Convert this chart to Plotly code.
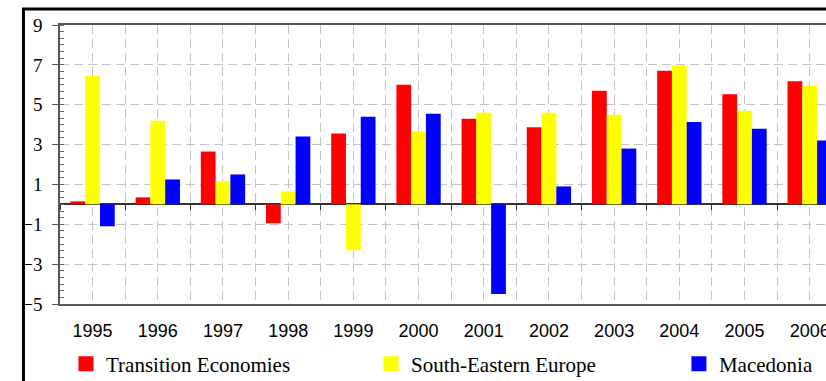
import plotly.graph_objects as go

years = [1995, 1996, 1997, 1998, 1999, 2000, 2001, 2002, 2003, 2004, 2005, 2006]
transition = [0.15, 0.35, 2.65, -0.95, 3.55, 6.0, 4.3, 3.87, 5.7, 6.7, 5.53, 6.18]
south_east = [6.45, 4.2, 1.15, 0.65, -2.3, 3.65, 4.6, 4.6, 4.5, 6.97, 4.7, 5.95]
macedonia = [-1.1, 1.25, 1.5, 3.4, 4.4, 4.55, -4.5, 0.9, 2.8, 4.13, 3.8, 3.2]

series = [
    ("Transition Economies", transition, "#FF0000", "legend"),
    ("South-Eastern Europe", south_east, "#FFFF00", "legend2"),
    ("Macedonia", macedonia, "#0000FF", "legend3"),
]

SERIF = "Liberation Serif, DejaVu Serif, serif"
SANS = "Liberation Sans, Arial, sans-serif"

fig = go.Figure()
for name, vals, col, lg in series:
    fig.add_trace(go.Bar(x=years, y=vals, name=name, marker=dict(color=col, line=dict(width=0)),
                         showlegend=False))
for name, vals, col, lg in series:
    fig.add_trace(go.Scatter(x=[None], y=[None], mode="markers", name=name, legend=lg,
                             marker=dict(symbol="square", size=15, color=col)))

# x range: the reference is cropped inside the 2006 group
xr = [1994.5, 2006.25]
grid_col = "#c4c4c4"
leg_font = dict(family=SERIF, size=21, color="#000")

def leg(x):
    return dict(orientation="h", x=x, xanchor="left", y=-0.215, yanchor="middle",
                font=leg_font, bgcolor="rgba(0,0,0,0)")

fig.update_layout(
    width=826, height=381,
    font=dict(family=SERIF),
    margin=dict(l=60, r=0, t=25, b=77, autoexpand=False),
    paper_bgcolor="white", plot_bgcolor="white",
    barmode="group", bargap=0.32, bargroupgap=0,
    showlegend=True,
    legend=leg(0.0078), legend2=leg(0.406), legend3=leg(0.808),
    xaxis=dict(range=xr, tickmode="array", tickvals=years, ticktext=[str(y) for y in years],
               showgrid=True, gridcolor=grid_col, griddash="9px,5px", gridwidth=1,
               minor=dict(tick0=1994.5, dtick=1, showgrid=True, gridcolor=grid_col,
                          griddash="9px,5px", gridwidth=1),
               showline=True, linecolor="#555", linewidth=1.5, mirror=True,
               ticks="", zeroline=False, automargin=False, ticklabeloverflow="allow",
               tickfont=dict(family=SANS, size=18, color="#000"),
               ticklabelstandoff=10),
    xaxis2=dict(range=xr, overlaying="x", anchor="free", position=5/14, side="bottom",
                tickmode="linear", tick0=1994.5, dtick=1, ticks="outside", ticklen=5,
                tickcolor="#333", tickwidth=1, showticklabels=False, showgrid=False,
                showline=False, zeroline=False),
    yaxis=dict(range=[-5, 9], tickmode="linear", tick0=-5, dtick=2,
               showgrid=True, gridcolor=grid_col, griddash="9px,5px", gridwidth=1,
               zeroline=True, zerolinecolor="#333", zerolinewidth=1.5,
               showline=True, linecolor="#555", linewidth=1.5, automargin=False,
               ticks="outside", ticklen=6, tickcolor="#555", tickwidth=1,
               minor=dict(tick0=-5, dtick=1/3, ticks="inside", ticklen=4,
                          tickcolor="#666", tickwidth=1, showgrid=False),
               tickfont=dict(family=SERIF, size=19, color="#000"),
               ticklabelstandoff=6),
    shapes=[dict(type="rect", xref="paper", yref="paper", x0=-0.0477, x1=1.2,
                 y0=-0.6, y1=1.0573, line=dict(color="#000", width=3),
                 fillcolor="rgba(0,0,0,0)", layer="above")],
)
# a dummy trace on xaxis2 so the axis is drawn
fig.add_trace(go.Scatter(x=[None], y=[None], xaxis="x2", showlegend=False, hoverinfo="skip"))

fig.write_html("out.html")
